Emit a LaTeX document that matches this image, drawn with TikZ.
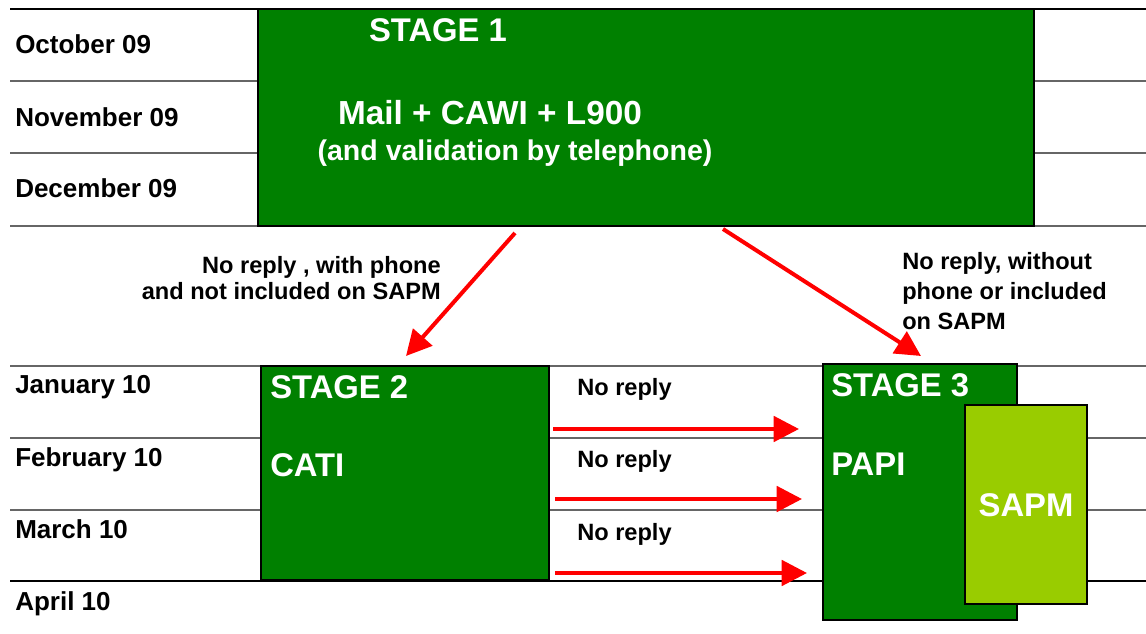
\documentclass[tikz,border=0pt]{standalone}
\usepackage{fontspec}
\setmainfont{Liberation Sans}
\usetikzlibrary{arrows.meta,fit}
\definecolor{stagegreen}{HTML}{008000}
\definecolor{sapmgreen}{HTML}{99CC00}
\definecolor{flowred}{HTML}{FF0000}
\begin{document}
\begin{tikzpicture}[x=0.75pt,y=-0.75pt,
  rowline/.style={draw=black!60, line width=1.1pt},
  edgeline/.style={draw=black, line width=1.5pt},
  stagebox/.style={draw=black, line width=2.2pt, fill=stagegreen, inner sep=0pt},
  sapmbox/.style={draw=black, line width=2.2pt, fill=sapmgreen, inner sep=0pt},
  month/.style={anchor=base west, inner sep=0pt, font=\fontsize{19.5}{22}\selectfont\bfseries},
  note/.style={inner sep=0pt, font=\fontsize{17.7}{20}\selectfont\bfseries},
  title/.style={inner sep=0pt, text=white, font=\fontsize{24.6}{28}\selectfont\bfseries},
  flow/.style={draw=flowred, line width=3pt, -{Triangle[length=19pt,width=19pt]}}
]
\useasboundingbox (0,0) rectangle (1146,634);

% month grid
\draw[black, line width=0.9pt] (10,9) -- (1146,9);
\foreach \y in {81,153,226,366,438,510}
  \draw[rowline] (10,\y) -- (1146,\y);
\draw[edgeline] (10,581) -- (1146,581);

% month labels
\node[month] (oct) at (15,54) {October 09};
\node[month] (nov) at (15,127) {November 09};
\node[month] (dec) at (15,198) {December 09};
\node[month] (jan) at (15,394) {January 10};
\node[month] (feb) at (15,466) {February 10};
\node[month] (mar) at (15,538) {March 10};
\node[month] (apr) at (15,610) {April 10};

% stage 1
\coordinate (s1nw) at (258,9);
\coordinate (s1se) at (1034,226);
\node[stagebox, fit=(s1nw)(s1se)] (s1) {};
\node[title, anchor=base] (s1title) at (438,42) {STAGE 1};
\node[title, anchor=base, font=\fontsize{25}{28}\selectfont\bfseries] (s1mode) at (490,125) {Mail + CAWI + L900};
\node[title, anchor=base, font=\fontsize{21.4}{25}\selectfont\bfseries] (s1val) at (515,161) {(and validation by telephone)};

% stage 2
\coordinate (s2nw) at (261,366);
\coordinate (s2se) at (549,580);
\node[stagebox, fit=(s2nw)(s2se)] (s2) {};
\node[title, anchor=base west] (s2title) at (270,399) {STAGE 2};
\node[title, anchor=base west] (s2mode) at (270,476) {CATI};

% stage 3 with SAPM
\coordinate (s3nw) at (823,364);
\coordinate (s3se) at (1017,620);
\node[stagebox, fit=(s3nw)(s3se)] (s3) {};
\node[title, anchor=base west] (s3title) at (831,397) {STAGE 3};
\node[title, anchor=base west] (s3mode) at (831,475) {PAPI};
\coordinate (sapmnw) at (965,405);
\coordinate (sapmse) at (1087,604);
\node[sapmbox, fit=(sapmnw)(sapmse)] (sapm) {};
\node[title, anchor=base] (sapmtext) at (1026,516) {SAPM};

% flow labels
\node[note, anchor=base east] (l1a) at (441,274) {No reply , with phone};
\node[note, anchor=base east] (l1b) at (441,300) {and not included on SAPM};
\node[note, anchor=base west] (l2a) at (902,270) {No reply, without};
\node[note, anchor=base west] (l2b) at (902,300) {phone or included};
\node[note, anchor=base west] (l2c) at (902,330) {on SAPM};
\node[note, anchor=base west] (nr1) at (577,396) {No reply};
\node[note, anchor=base west] (nr2) at (577,468) {No reply};
\node[note, anchor=base west] (nr3) at (577,540) {No reply};

% flow arrows
\coordinate (a1s) at (515,233);
\coordinate (a1e) at (406,356);
\coordinate (a2s) at (723,229);
\coordinate (a2e) at (921,356);
\draw[flow] (a1s) -- (a1e);
\draw[flow] (a2s) -- (a2e);
\coordinate (h1s) at (553,429);
\coordinate (h1e) at (799,429);
\coordinate (h2s) at (555,499);
\coordinate (h2e) at (802,499);
\coordinate (h3s) at (555,573);
\coordinate (h3e) at (807,573);
\draw[flow] (h1s) -- (h1e);
\draw[flow] (h2s) -- (h2e);
\draw[flow] (h3s) -- (h3e);
\end{tikzpicture}
\end{document}
